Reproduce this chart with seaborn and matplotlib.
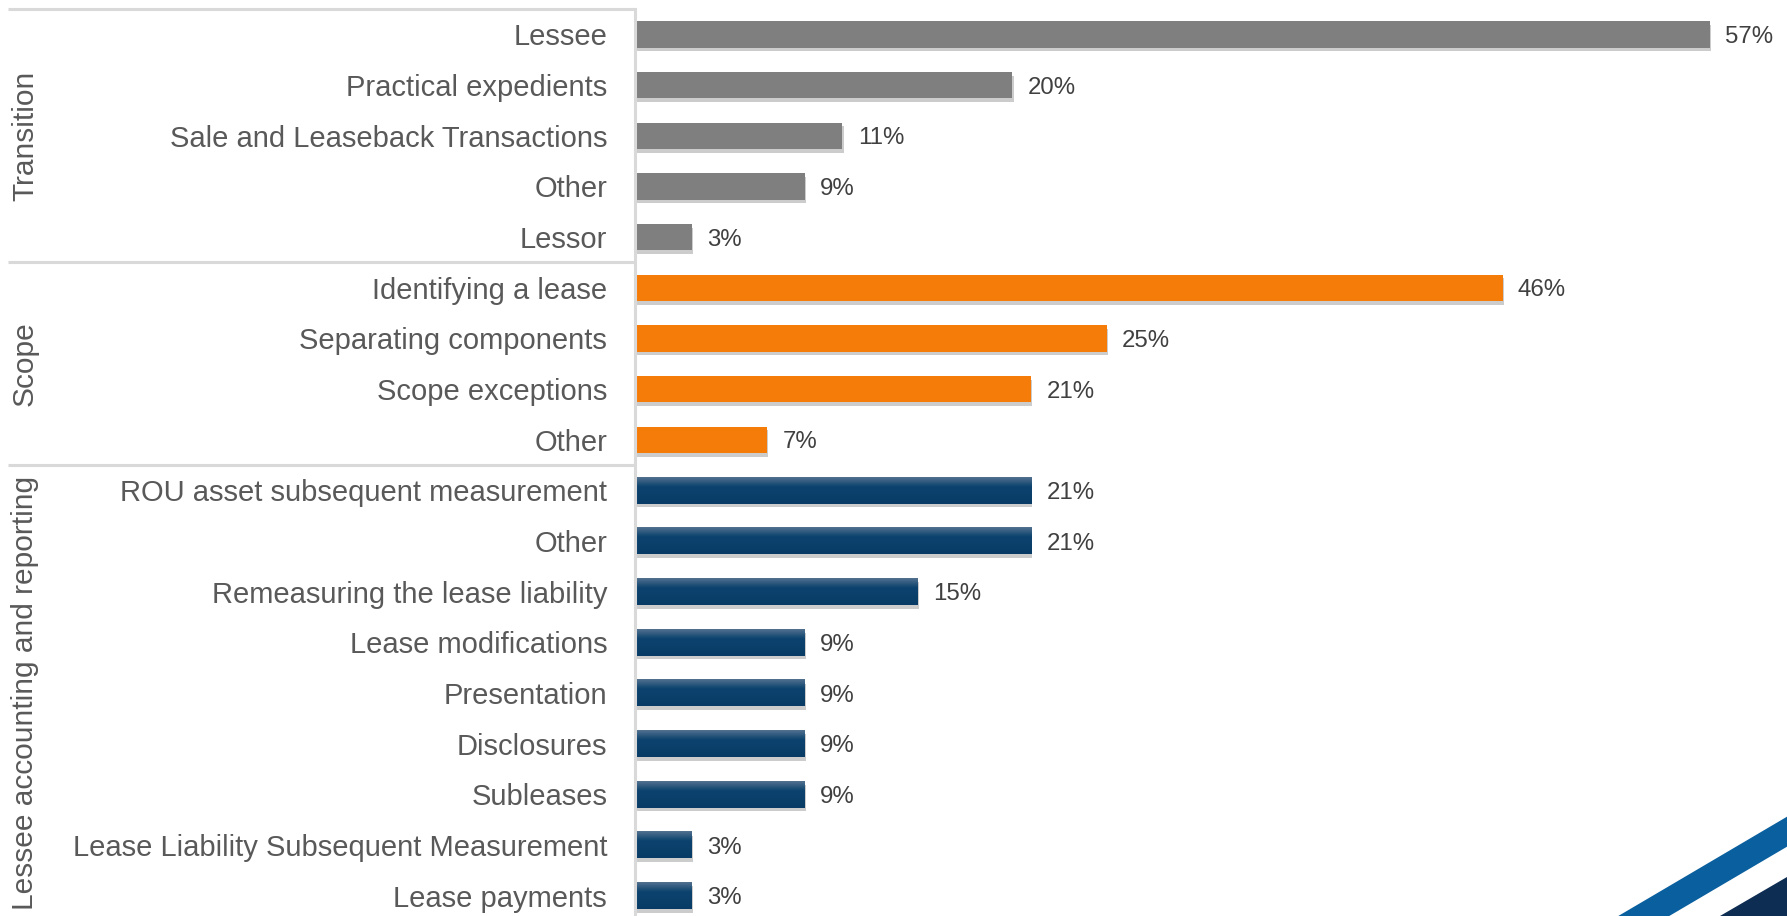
import numpy as np
import pandas as pd
import matplotlib
matplotlib.use("Agg")
import matplotlib.pyplot as plt
import matplotlib.patheffects as pe
from matplotlib.patches import Polygon
import seaborn as sns

# Survey results: share of questions by topic, grouped by area
transition_items = ["Lessee", "Practical expedients", "Sale and Leaseback Transactions", "Other", "Lessor"]
transition_values = [57, 20, 11, 9, 3]

scope_items = ["Identifying a lease", "Separating components", "Scope exceptions", "Other"]
scope_values = [46, 25, 21, 7]

lessee_items = ["ROU asset subsequent measurement", "Other", "Remeasuring the lease liability",
                "Lease modifications", "Presentation", "Disclosures", "Subleases",
                "Lease Liability Subsequent Measurement", "Lease payments"]
lessee_values = [21, 21, 15, 9, 9, 9, 9, 3, 3]

group_names = ["Transition", "Scope", "Lessee accounting and reporting"]
group_colors = ["#7F7F7F", "#F67C09", "#0B416C"]

rows = []
for g, items, vals in zip(group_names,
                          [transition_items, scope_items, lessee_items],
                          [transition_values, scope_values, lessee_values]):
    for it, v in zip(items, vals):
        rows.append({"group": g, "item": it, "key": f"{g}|{it}", "value": v})
df = pd.DataFrame(rows)

sns.set_theme(style="white")
plt.rcParams["font.family"] = ["Liberation Sans", "DejaVu Sans"]

W, H = 1787, 916
fig = plt.figure(figsize=(W / 100, H / 100), dpi=100)
ax_left, ax_w = 635 / W, 1131.6 / W
ax_top_px = 9
ax = fig.add_axes([ax_left, 0, ax_w, (H - ax_top_px) / H])

sns.barplot(data=df, y="key", x="value", hue="group", order=df["key"].tolist(),
            hue_order=group_names, palette=group_colors, orient="h", dodge=False,
            width=0.52, saturation=1, linewidth=0, legend=False, ax=ax)

shadow = [pe.SimplePatchShadow(offset=(1.0, -2.8), shadow_rgbFace="#000000", alpha=0.2), pe.Normal()]
for cont in ax.containers:
    for p in cont.patches:
        p.set_path_effects(shadow)
    texts = ax.bar_label(cont, fmt="{:.0f}%", padding=11, fontsize=17.3, color="#404040")
    for t in texts:
        t.set_verticalalignment("center_baseline")

# soft vertical gradient on the navy bars
grad = np.linspace(0, 1, 64)
c_top = np.array(matplotlib.colors.to_rgb("#52718F"))
c_mid = np.array(matplotlib.colors.to_rgb("#0C436E"))
c_bot = np.array(matplotlib.colors.to_rgb("#083C66"))
img = np.empty((64, 1, 3))
for i, t in enumerate(grad):
    if t < 0.35:
        img[i, 0] = c_top + (c_mid - c_top) * (t / 0.35)
    else:
        img[i, 0] = c_mid + (c_bot - c_mid) * ((t - 0.35) / 0.65)
navy_cont = ax.containers[2]
for p in navy_cont.patches:
    x0, y0, w, h = p.get_x(), p.get_y(), p.get_width(), p.get_height()
    ax.imshow(img, extent=[x0, x0 + w, y0 + h, y0], aspect="auto", zorder=2,
              interpolation="bilinear")

ax.set_xlim(0, 60)
ax.set_ylim(17.4, -0.5)

ax.set_yticks(range(len(df)))
ax.set_yticklabels(df["item"], fontsize=21, color="#595959")
ax.tick_params(axis="y", length=0, pad=20)
ax.set_xticks([])
ax.set_xlabel("")
ax.set_ylabel("")
for s in ["top", "right", "bottom"]:
    ax.spines[s].set_visible(False)
ax.spines["left"].set_color("#D9D9D9")
ax.spines["left"].set_linewidth(2.2)

# group separators and rotated group labels
ytr = ax.get_yaxis_transform()
x_line0 = (8 - 635) / 1131.6
x_lab = (25 - 635) / 1131.6
bounds = [0]
for items in [transition_items, scope_items, lessee_items]:
    bounds.append(bounds[-1] + len(items))
for b in bounds[:-1]:
    ax.plot([x_line0, 0], [b - 0.5, b - 0.5], transform=ytr, clip_on=False,
            color="#D9D9D9", lw=2.2, solid_capstyle="butt")
for g, a, b in zip(group_names, bounds[:-1], bounds[1:]):
    ax.text(x_lab, (a + b - 1) / 2, g, transform=ytr, rotation=90, ha="center",
            va="center", fontsize=21.5, color="#595959")

# corner stripes
def px(x, y):
    return (x / W, 1 - y / H)

slope = 99.3 / 168.7
blue = [px(1787, 816.7), px(1787, 846.7), px(1787 - 69.3 / slope, 916), px(1618.3, 916)]
navy = [px(1787, 876.7), px(1787, 916), px(1787 - 39.3 / slope, 916)]
fig.patches.append(Polygon(blue, closed=True, transform=fig.transFigure,
                           facecolor="#0A5F9E", edgecolor="none"))
fig.patches.append(Polygon(navy, closed=True, transform=fig.transFigure,
                           facecolor="#0D2D52", edgecolor="none"))

fig.savefig("out.png", dpi=100)
